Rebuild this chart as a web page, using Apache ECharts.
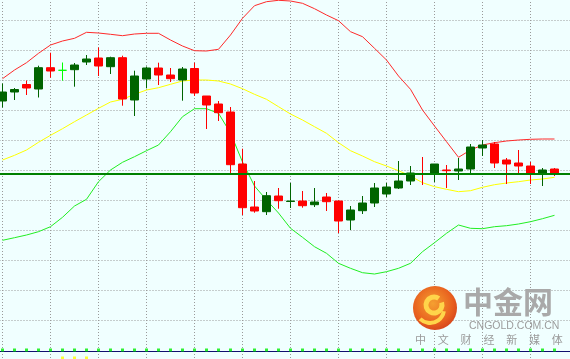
<!DOCTYPE html>
<html><head><meta charset="utf-8">
<script src="https://cdn.jsdelivr.net/npm/echarts@6/dist/echarts.min.js"></script>
<style>html,body{margin:0;padding:0;background:#f0ffff;}#c{width:570px;height:359px;}</style>
</head><body><div id="c"></div>
<script>
// ---- data (47 bars) ----
const categories = ['1','2','3','4','5','6','7','8','9','10','11','12','13','14','15','16','17','18','19','20','21','22','23','24','25','26','27','28','29','30','31','32','33','34','35','36','37','38','39','40','41','42','43','44','45','46','47'];
const opens  = [1290.90,1291.80,1292.55,1292.10,1294.23,1293.97,1294.03,1294.80,1295.20,1294.33,1295.23,1291.00,1293.10,1294.20,1293.50,1293.00,1294.15,1291.40,1290.60,1289.80,1284.60,1280.30,1279.83,1281.40,1280.85,1280.90,1280.53,1281.30,1280.90,1279.00,1279.93,1280.70,1281.60,1282.20,1282.90,1283.63,1283.60,1284.00,1283.90,1284.10,1286.20,1286.60,1285.00,1284.70,1284.40,1283.70,1284.10];
const closes = [1291.80,1292.05,1292.20,1294.23,1293.90,1293.97,1294.50,1295.10,1294.40,1295.23,1291.10,1293.40,1294.20,1293.50,1293.13,1294.10,1291.70,1290.50,1289.73,1284.53,1280.23,1279.90,1281.43,1280.93,1280.90,1280.43,1280.80,1280.83,1278.90,1280.00,1280.70,1282.20,1282.30,1282.90,1283.70,1283.57,1284.60,1283.93,1284.10,1286.30,1286.50,1284.70,1284.60,1284.40,1283.60,1284.00,1283.60];
const lows   = [1290.25,1291.00,1291.50,1291.25,1293.23,1292.93,1292.33,1294.50,1293.40,1293.60,1290.43,1289.40,1292.17,1292.50,1292.80,1290.93,1291.40,1288.10,1288.90,1283.63,1279.50,1279.73,1279.50,1280.13,1280.20,1280.23,1280.30,1279.90,1277.70,1278.00,1279.60,1280.30,1281.30,1282.10,1282.50,1282.50,1282.80,1282.20,1283.00,1283.70,1285.40,1284.20,1282.60,1283.70,1282.60,1282.40,1283.40];
const highs  = [1292.65,1292.20,1292.95,1294.43,1295.73,1294.75,1294.70,1295.50,1296.25,1295.33,1295.43,1293.93,1294.35,1294.73,1294.20,1294.30,1294.73,1291.40,1290.90,1290.30,1286.13,1282.90,1281.80,1282.20,1282.70,1281.90,1282.20,1281.70,1280.95,1280.40,1281.40,1282.70,1282.70,1284.90,1284.40,1285.30,1284.60,1284.50,1285.20,1286.60,1287.00,1286.80,1285.20,1286.00,1284.80,1284.20,1284.20];
const upperBand  = [1293.13,1294.00,1294.73,1295.67,1296.50,1296.90,1297.17,1297.77,1297.70,1297.57,1297.43,1297.60,1297.67,1297.67,1297.00,1296.40,1295.93,1295.90,1296.07,1297.50,1299.17,1300.43,1300.83,1300.97,1300.90,1300.67,1300.13,1299.50,1298.93,1297.83,1297.33,1296.17,1295.00,1293.40,1292.07,1290.00,1288.40,1286.83,1285.27,1286.00,1286.50,1286.73,1286.90,1287.00,1287.07,1287.10,1287.10];
const middleBand = [1285.00,1285.47,1286.00,1286.77,1287.47,1288.13,1288.83,1289.50,1290.17,1290.80,1291.07,1291.57,1292.00,1292.23,1292.57,1292.90,1293.00,1293.00,1292.90,1292.60,1292.13,1291.57,1291.07,1290.33,1289.60,1289.00,1288.33,1287.67,1286.73,1285.93,1285.40,1284.83,1284.40,1283.93,1283.40,1282.73,1282.33,1282.07,1281.83,1281.93,1282.27,1282.53,1282.70,1282.83,1283.00,1283.10,1283.27];
const lowerBand  = [1276.97,1277.23,1277.50,1277.83,1278.33,1279.27,1280.40,1281.07,1282.83,1284.00,1284.77,1285.33,1285.93,1286.50,1287.83,1289.33,1290.13,1290.13,1289.67,1287.70,1284.80,1282.40,1281.00,1279.70,1278.17,1277.27,1276.33,1275.67,1274.67,1274.17,1273.73,1273.60,1273.83,1274.17,1274.67,1275.83,1276.73,1277.67,1278.50,1278.17,1278.13,1278.33,1278.43,1278.60,1278.83,1279.13,1279.47];
const lastPrice = 1283.60;
const limeDojiBars = [5];           // bars drawn as bright green doji
const greenMarks = [1,1,1,1,1,1,1,1,1,1,1,1,1,1,1,1,1,1,1,1,1,1,1,1,1,1,1,1,1,1,1,1,1,1,1,1,1,1,1,1,1,1,1,1,1,1,1];
const yellowMarkBars = [5,6,7];
const yMin = 1266, yMax = 1302, yStep = 3;

// ---- build ----
const xData = [''].concat(categories).concat(['','']);
const pad = v => [null].concat(v).concat([null,null]);
const kData = [['-','-','-','-']];
categories.forEach((c,i)=>{
  const item = {value:[opens[i],closes[i],lows[i],highs[i]]};
  if (limeDojiBars.indexOf(i) >= 0) {
    item.itemStyle = {color:'#00ff00',color0:'#00ff00',borderColor:'#00ff00',borderColor0:'#00ff00',borderColorDoji:'#00ff00'};
  }
  kData.push(item);
});
const greenDots = [];
greenMarks.forEach((m,i)=>{ if(m) greenDots.push([i+1, yMin]); });
const yellowDots = yellowMarkBars.map(i=>[i+1, 0.6]);

const gridLine = {show:true, lineStyle:{color:'#9a9a9a', width:1, type:[1,2]}};
const splitX = Object.assign({}, gridLine, {interval: (i)=> (i-1)%4===0});

const chart = echarts.init(document.getElementById('c'), null, {renderer:'canvas'});
const cjk = '"Noto Sans CJK SC", sans-serif';
const subChars = ['中','文','财','经','新','媒','体'];
const graphics = [
  {type:'circle', z:100, shape:{cx:435, cy:308, r:22},
   style:{fill:new echarts.graphic.RadialGradient(0.45,0.4,0.75,[{offset:0,color:'#f5a030'},{offset:0.6,color:'#e8601f'},{offset:1,color:'#c8321a'}])}},
  {type:'arc', z:101, shape:{cx:434, cy:305, r:8, startAngle:-Math.PI*0.1, endAngle:Math.PI*1.7}, style:{stroke:'#ffd54a', lineWidth:5, fill:null}},
  {type:'arc', z:101, shape:{cx:430, cy:309, r:14, startAngle:Math.PI*0.05, endAngle:Math.PI*0.75}, style:{stroke:'#ffd54a', lineWidth:4, fill:null}},
  {type:'text', z:100, left:463, top:287, style:{text:'中金网', fill:'#a9a9a9', font:'bold 30px '+cjk}},
  {type:'text', z:100, left:469, top:321, style:{text:'CNGOLD.COM.CN', fill:'#9c9c9c', font:'10.5px "Liberation Sans", Arial, sans-serif'}}
];
subChars.forEach((ch,i)=>{
  graphics.push({type:'text', z:100, left:415 + i*22.8, top:334, style:{text:ch, fill:'#9a9a9a', font:'11px '+cjk}});
});

chart.setOption({
  backgroundColor:'#f0ffff',
  animation:false,
  grid:[
    {left:-9.5, right:-8.5, top:-10, height:360, outerBoundsMode:'none', containLabel:false},
    {left:-9.5, right:-8.5, top:354, height:10, outerBoundsMode:'none', containLabel:false}
  ],
  xAxis:[
    {type:'category', gridIndex:0, data:xData, boundaryGap:false, offset:1,
     axisLine:{show:true, lineStyle:{color:'#10106e', width:1}}, axisTick:{show:false}, axisLabel:{show:false},
     splitLine:splitX},
    {type:'category', gridIndex:1, data:xData, boundaryGap:false, position:'top',
     axisLine:{show:true, lineStyle:{color:'#10106e', width:1}}, axisTick:{show:false}, axisLabel:{show:false},
     splitLine:splitX}
  ],
  yAxis:[
    {type:'value', gridIndex:0, min:yMin, max:yMax, interval:yStep, axisLine:{show:false}, axisTick:{show:false}, axisLabel:{show:false},
     splitLine:Object.assign({}, gridLine, {showMinLine:false})},
    {type:'value', gridIndex:1, min:0, max:1, axisLine:{show:false}, axisTick:{show:false}, axisLabel:{show:false}, splitLine:{show:false}}
  ],
  series:[
    {type:'line', name:'Upper', data:pad(upperBand), symbol:'none', z:2, lineStyle:{color:'#ff2a2a', width:1}, clip:false},
    {type:'line', name:'Middle', data:pad(middleBand), symbol:'none', z:2, lineStyle:{color:'#ffff00', width:1}, clip:false},
    {type:'line', name:'Lower', data:pad(lowerBand), symbol:'none', z:2, lineStyle:{color:'#22ee22', width:1}, clip:false},
    {type:'candlestick', name:'K', data:kData, z:3, barWidth:9, clip:false,
     itemStyle:{color:'#006400', color0:'#ff0000', borderColor:'#006400', borderColor0:'#ff0000', borderColorDoji:'#ff0000', borderWidth:1},
     markLine:{silent:true, symbol:['none','none'], label:{show:false}, z:5,
       lineStyle:{color:'#008000', width:2, type:'solid'}, data:[{yAxis:lastPrice}]}},
    {type:'scatter', name:'marks', data:greenDots, symbol:'rect', symbolSize:3, z:4, clip:false, itemStyle:{color:'#00ee00'}},
    {type:'scatter', name:'marks2', xAxisIndex:1, yAxisIndex:1, data:yellowDots, symbol:'rect', symbolSize:3, clip:false, itemStyle:{color:'#ffff00'}}
  ],
  graphic:graphics
});
</script>
</body></html>
